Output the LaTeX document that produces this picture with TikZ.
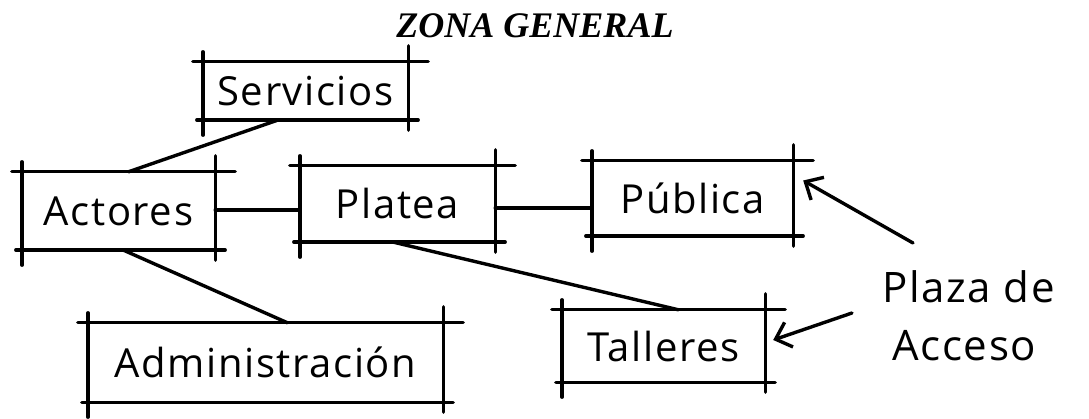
\documentclass[tikz,border=0pt]{standalone}
\usepackage{fontspec}
\setmainfont{Liberation Serif}
\newfontfamily\handfont[LetterSpace=4]{Open Sans}
\usetikzlibrary{arrows.meta}
\tikzset{
  ink/.style={line width=3.4pt, black, line cap=round, line join=round},
  zbox/.style={draw=none, inner sep=0pt, font=\handfont\fontsize{40}{44}\selectfont},
  link/.style={ink},
  acc/.style={ink, -{Straight Barb[length=14pt,width=26pt]}},
}
\newcommand\skbox[1]{%
  \draw[ink] ([xshift=-10pt]#1.north west) -- ([xshift=20pt]#1.north east);
  \draw[ink] ([xshift=-6pt]#1.south west) -- ([xshift=10pt]#1.south east);
  \draw[ink] ([yshift=10pt]#1.north west) -- ([yshift=-15pt]#1.south west);
  \draw[ink] ([yshift=16pt]#1.north east) -- ([yshift=-10pt]#1.south east);
}
\begin{document}
\begin{tikzpicture}[x=1pt,y=-1pt]
  \useasboundingbox (0,0) rectangle (1089,419);
  \node[anchor=base, font=\fontsize{36}{40}\selectfont\bfseries\itshape] (title) at (535,38) {ZONA GENERAL};

  \node[zbox, minimum width=205pt, minimum height=58pt] (serv) at (305.5,91) {Servicios};
  \node[zbox, minimum width=193pt, minimum height=78pt] (act) at (118.5,211) {Actores};
  \node[zbox, minimum width=195pt, minimum height=76pt] (plat) at (397.5,204) {Platea};
  \node[zbox, minimum width=201pt, minimum height=75pt] (pub) at (692.5,198.5) {Pública};
  \node[zbox, minimum width=355pt, minimum height=79pt] (adm) at (265.5,362.5) {Administración};
  \node[zbox, minimum width=203pt, minimum height=72pt] (tal) at (663.5,346) {Talleres};

  \skbox{serv}
  \skbox{act}
  \skbox{plat}
  \skbox{pub}
  \skbox{adm}
  \skbox{tal}

  \node[anchor=base west, inner sep=0pt, align=left,
        font=\handfont\fontsize{42}{58}\selectfont] (plaza) at (882,360)
        {Plaza de\\\hspace*{10pt}Acceso};

  \draw[link] ([xshift=-28pt]serv.south) -- ([xshift=10pt]act.north);
  \draw[link] ([yshift=1pt]act.east) -- ([yshift=1pt]act.east -| plat.west);
  \draw[link] ([yshift=-4pt]plat.east) -- ([yshift=-4pt]plat.east -| pub.west);
  \draw[link] ([xshift=5pt]act.south) -- ([xshift=22pt]adm.north);
  \draw[link] ([xshift=-4pt]plat.south) -- ([xshift=15pt]tal.north);

  \coordinate (p1) at (913,243);
  \coordinate (p2) at (852,313);
  \draw[acc] (p1) -- ([xshift=10pt,yshift=18pt]pub.east);
  \draw[acc] (p2) -- ([xshift=8pt,yshift=6pt]tal.east);
\end{tikzpicture}
\end{document}
